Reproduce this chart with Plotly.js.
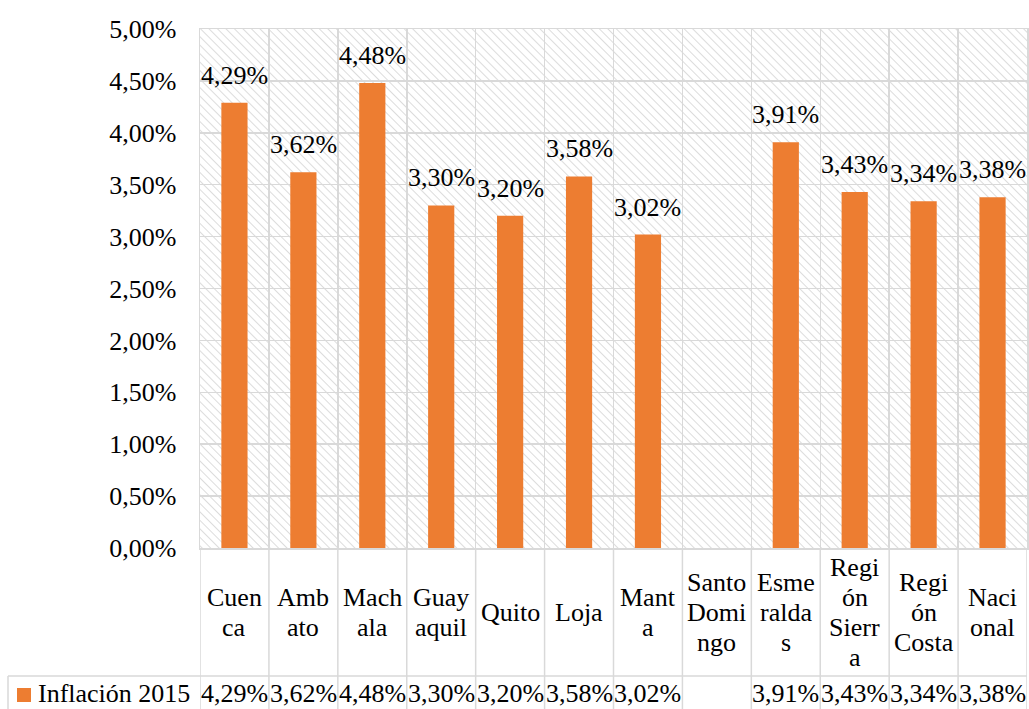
<!DOCTYPE html>
<html>
<head>
<meta charset="utf-8">
<script src="https://cdn.plot.ly/plotly-3.0.1.min.js"></script>
<style>html,body{margin:0;padding:0;background:#fff;}#chart{width:1029px;height:709px;}</style>
</head>
<body>
<div id="chart"></div>
<script>
// ---- data ----
const categories = ["Cuenca","Ambato","Machala","Guayaquil","Quito","Loja","Manta","Santo Domingo","Esmeraldas","Región Sierra","Región Costa","Nacional"];
const tableLabels = ["Cuen<br>ca","Amb<br>ato","Mach<br>ala","Guay<br>aquil","Quito","Loja","Mant<br>a","Santo<br>Domi<br>ngo","Esme<br>ralda<br>s","Regi<br>ón<br>Sierr<br>a","Regi<br>ón<br>Costa","Naci<br>onal"];
const inflacion2015 = [4.29,3.62,4.48,3.30,3.20,3.58,3.02,null,3.91,3.43,3.34,3.38];
const seriesName = "Inflación 2015";
const yTickVals = [0,0.5,1,1.5,2,2.5,3,3.5,4,4.5,5];

// ---- style ----
const FONT = "Liberation Serif";
const FS = 26;
const ORANGE = "#ED7D31";
const GRID = "#d9d9d9";
const W = 1029, H = 709;
const M = {l:200, r:2, t:29, b:161};
const plotW = W - M.l - M.r, plotH = H - M.t - M.b;
const px = p => (p - M.l) / plotW;        // pixel x -> paper
const py = p => (H - M.b - p) / plotH;    // pixel y -> paper
const fmt = v => (v == null ? "" : v.toFixed(2).replace(".", ",") + "%");

// hatch background
const svg = `<svg xmlns="http://www.w3.org/2000/svg" width="${plotW}" height="${plotH}" preserveAspectRatio="none">
<defs><pattern id="p" width="6" height="6" patternUnits="userSpaceOnUse" patternTransform="rotate(-45)">
<rect width="6" height="6" fill="#ffffff"/><line x1="0" y1="0" x2="0" y2="6" stroke="#d4d4d4" stroke-width="1.6"/></pattern></defs>
<rect width="100%" height="100%" fill="url(#p)"/></svg>`;
const bgSrc = "data:image/svg+xml;charset=utf-8," + encodeURIComponent(svg);

const trace = {
  type: "bar",
  x: categories,
  y: inflacion2015,
  name: seriesName,
  width: 0.38,
  marker: {color: ORANGE},
  hoverinfo: "x+y",
  showlegend: false
};

const annotations = [];
const shapes = [];
const tf = {family: FONT, size: FS, color: "#000"};

// data labels above bars
categories.forEach((c, i) => {
  if (inflacion2015[i] == null) return;
  annotations.push({
    x: c, y: inflacion2015[i], xref: "x", yref: "y",
    text: fmt(inflacion2015[i]), showarrow: false,
    yanchor: "bottom", xanchor: "center", yshift: 11, font: tf
  });
});

// data table: category label row (548..676) and value row (676..709)
const labelRowCenter = (548 + 676) / 2;
const lineGap = 30;
categories.forEach((c, i) => {
  const lines = tableLabels[i].split("<br>");
  const n = lines.length;
  lines.forEach((ln, k) => {
    annotations.push({
      x: c, y: py(labelRowCenter + (k - (n - 1) / 2) * lineGap), xref: "x", yref: "paper",
      text: ln, showarrow: false, xanchor: "center", yanchor: "middle", font: tf
    });
  });
  annotations.push({
    x: c, y: py(693), xref: "x", yref: "paper",
    text: fmt(inflacion2015[i]), showarrow: false, xanchor: "center", yanchor: "middle", font: tf
  });
});

// legend cell
annotations.push({
  x: px(36), y: py(693), xref: "paper", yref: "paper",
  text: seriesName, showarrow: false, xanchor: "left", yanchor: "middle", font: tf
});
shapes.push({type: "rect", xref: "paper", yref: "paper", x0: px(17), x1: px(31), y0: py(702), y1: py(688), fillcolor: ORANGE, line: {width: 0}});

// table lines
for (let i = 0; i <= categories.length; i++) {
  shapes.push({type: "line", xref: "x", yref: "paper", x0: i - 0.5, x1: i - 0.5, y0: 0, y1: py(H + 2), line: {color: GRID, width: 1.5}});
}
shapes.push({type: "line", xref: "paper", yref: "paper", x0: px(8), x1: 1, y0: py(676), y1: py(676), line: {color: GRID, width: 1.5}});
shapes.push({type: "line", xref: "paper", yref: "paper", x0: px(8), x1: px(8), y0: py(676), y1: py(H + 2), line: {color: GRID, width: 1.5}});

const layout = {
  width: W, height: H,
  margin: M,
  paper_bgcolor: "#ffffff",
  plot_bgcolor: "rgba(0,0,0,0)",
  showlegend: false,
  font: tf,
  xaxis: {
    type: "category",
    categoryorder: "array", categoryarray: categories,
    range: [-0.5, categories.length - 0.5],
    showticklabels: false,
    tickson: "boundaries",
    ticks: "",
    showgrid: true, gridcolor: GRID, gridwidth: 1.5,
    showline: true, mirror: true, linecolor: GRID, linewidth: 1.5,
    zeroline: false, fixedrange: true
  },
  yaxis: {
    range: [0, 5],
    tickmode: "array",
    tickvals: yTickVals,
    ticktext: yTickVals.map(fmt),
    ticks: "", ticklabelstandoff: 17,
    tickfont: tf,
    showgrid: true, gridcolor: GRID, gridwidth: 1.5,
    showline: true, mirror: true, linecolor: GRID, linewidth: 1.5,
    zeroline: false, fixedrange: true
  },
  images: [{source: bgSrc, xref: "paper", yref: "paper", x: 0, y: 1, sizex: 1, sizey: 1, sizing: "stretch", xanchor: "left", yanchor: "top", layer: "below"}],
  annotations: annotations,
  shapes: shapes
};

Plotly.newPlot("chart", [trace], layout, {displayModeBar: false, staticPlot: true});
</script>
</body>
</html>
